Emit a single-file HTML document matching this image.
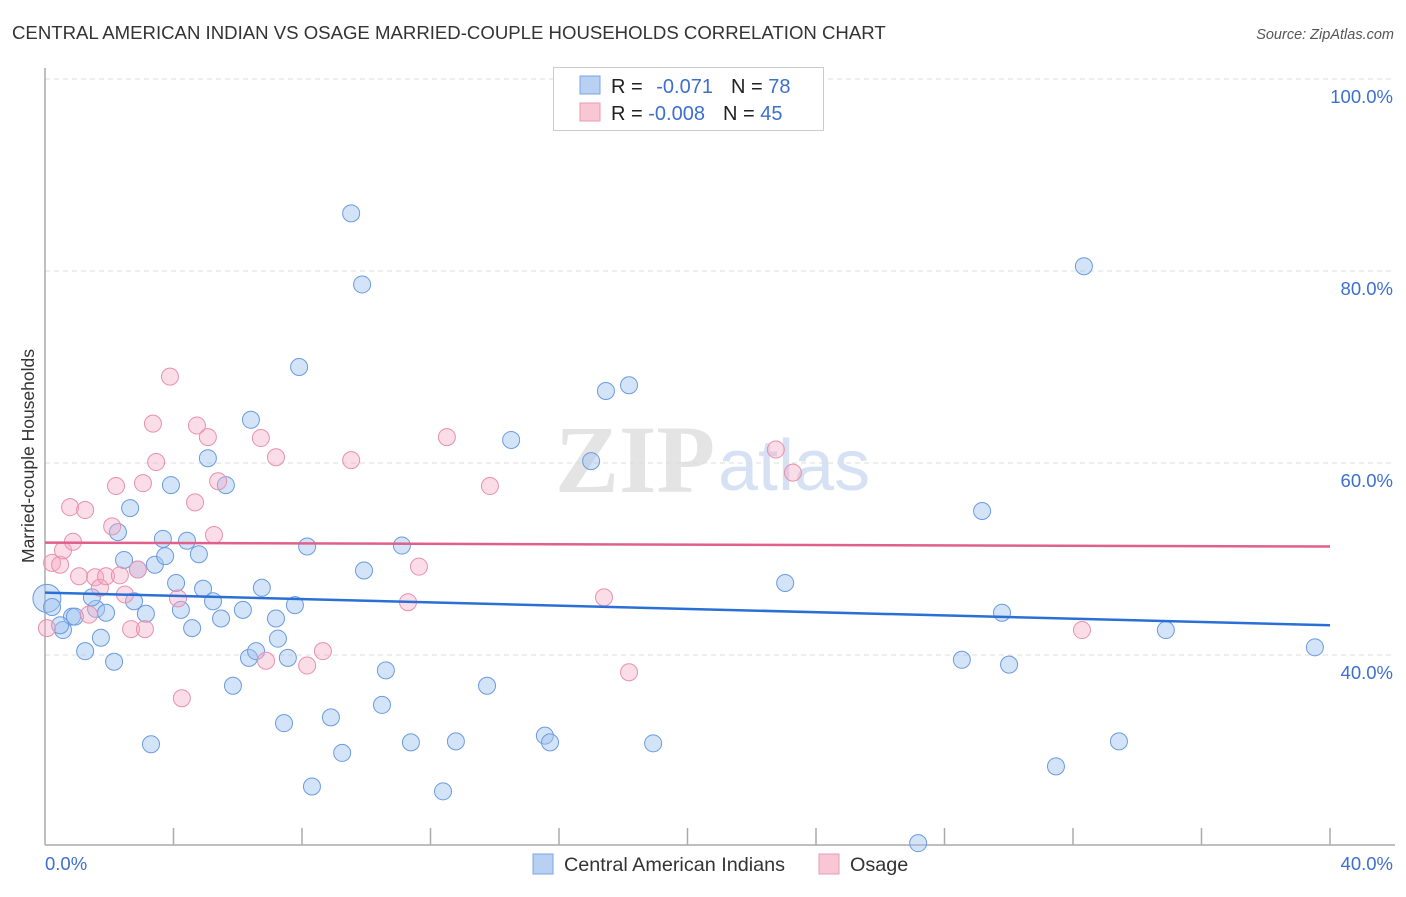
<!DOCTYPE html>
<html><head><meta charset="utf-8"><style>
body{margin:0;background:#fff;font-family:"Liberation Sans",sans-serif}
</style></head><body>
<svg id="c" width="1406" height="892" xmlns="http://www.w3.org/2000/svg">
<text x="12" y="39" font-size="18.6" fill="#333">CENTRAL AMERICAN INDIAN VS OSAGE MARRIED-COUPLE HOUSEHOLDS CORRELATION CHART</text>
<text x="1394" y="39" font-size="14.5" fill="#555" text-anchor="end" font-style="italic">Source: ZipAtlas.com</text>
<text x="555" y="492" font-size="96" fill="#e4e4e4" font-family="Liberation Serif" font-weight="bold">ZIP</text>
<text x="718" y="490" font-size="72" fill="#d6e2f4">atlas</text>
<g id="grid"></g><g id="pts"></g><g id="lines"></g>
<text transform="translate(34,456) rotate(-90)" font-size="17.5" fill="#333" text-anchor="middle">Married-couple Households</text>
<g>
<rect x="553.5" y="67.5" width="270" height="63" fill="#fff" stroke="#ccc"/>
<rect x="580" y="76" width="20" height="18" fill="#b8d1f3" stroke="#7aa5e3"/>
<rect x="580" y="103" width="20" height="18" fill="#f9c6d5" stroke="#ec9ab5"/>
<text x="611" y="93" font-size="20" fill="#222">R = <tspan fill="#3d6fd0" dx="8">-0.071</tspan><tspan dx="18" fill="#222">N = </tspan><tspan fill="#3d6fd0">78</tspan></text>
<text x="611" y="120" font-size="20" fill="#222">R = <tspan fill="#3d6fd0">-0.008</tspan><tspan dx="18" fill="#222">N = </tspan><tspan fill="#3d6fd0">45</tspan></text>
</g>
<g>
<rect x="533" y="854" width="20" height="20" fill="#b8d1f3" stroke="#7aa5e3"/>
<text x="564" y="871" font-size="19.8" fill="#333">Central American Indians</text>
<rect x="819" y="854" width="20" height="20" fill="#f9c6d5" stroke="#ec9ab5"/>
<text x="850" y="871" font-size="19.8" fill="#333">Osage</text>
</g>
</svg>
<script>
const blueX=[0.06,0.22,0.56,0.84,1.25,1.74,2.15,1.59,1.90,1.46,2.46,2.65,2.27,2.89,2.77,3.14,3.30,3.42,3.67,3.74,3.92,4.08,4.23,4.42,4.58,4.79,4.92,5.07,5.23,5.48,5.63,5.85,6.16,6.41,6.35,6.57,6.75,7.19,7.25,7.44,7.56,7.78,7.91,8.16,8.31,8.90,9.25,9.53,9.87,9.93,10.49,10.61,11.11,11.39,12.39,12.79,13.76,14.51,15.56,15.72,17.00,17.46,18.18,18.93,23.04,27.18,28.54,29.17,29.79,30.01,31.47,32.34,33.43,34.89,39.53,0.93,0.47];
const blueY=[45.9,45.0,42.6,44.0,40.4,41.8,39.3,44.8,44.4,46.0,49.9,55.3,52.8,48.9,45.6,44.3,30.7,49.4,52.1,50.3,57.7,47.5,44.7,51.9,42.8,50.5,46.9,60.5,45.6,43.8,57.7,36.8,44.7,64.5,39.7,40.4,47.0,43.8,41.7,32.9,39.7,45.2,70.0,51.3,26.3,33.5,29.8,86.0,78.6,48.8,34.8,38.4,51.4,30.9,25.8,31.0,36.8,62.4,31.6,30.9,60.2,67.5,68.1,30.8,47.5,20.4,39.5,55.0,44.4,39.0,28.4,80.5,31.0,42.6,40.8,44.0,43.1];
const pinkX=[0.06,0.22,0.47,0.56,0.78,0.87,1.06,1.25,1.37,1.56,1.71,1.90,2.09,2.21,2.33,2.49,2.68,2.89,3.05,3.11,3.36,3.46,3.89,4.14,4.26,4.67,4.73,5.07,5.26,5.39,6.72,6.88,7.19,8.16,8.65,9.53,11.30,11.64,12.51,13.85,17.40,18.18,22.75,23.28,32.28];
const pinkY=[42.8,49.6,49.4,50.9,55.4,51.8,48.2,55.1,44.2,48.1,47.0,48.2,53.4,57.6,48.3,46.3,42.7,48.9,57.9,42.7,64.1,60.1,69.0,45.9,35.5,55.9,63.9,62.7,52.5,58.1,62.6,39.4,60.6,38.9,40.4,60.3,45.5,49.2,62.7,57.6,46.0,38.2,61.4,59.0,42.6];
const blueTrend=[46.5,43.1];
const pinkTrend=[51.7,51.3];
const yTicks=[40,60,80,100];
const xTickCount=10;
const NS="http://www.w3.org/2000/svg";
const X=v=>45+v*32.125, Y=v=>79+(100-v)*9.6;
function mk(tag,at,parent){const e=document.createElementNS(NS,tag);for(const k in at)e.setAttribute(k,at[k]);parent.appendChild(e);return e;}
const g=document.getElementById('grid');
yTicks.forEach(t=>{
 const l=mk('line',{x1:45,x2:1395,y1:Y(t),y2:Y(t),stroke:'#ddd','stroke-dasharray':'5,4'},g);
 
 
 const tx=mk('text',{x:1393,y:Y(t)+24,'font-size':18.5,fill:'#3d6fd0','text-anchor':'end'},g);
 tx.textContent=t.toFixed(1)+'%';
 
 
});
mk('line',{x1:45,x2:45,y1:68,y2:845,stroke:'#aaa','stroke-width':1.5},g);
mk('line',{x1:45,x2:1395,y1:845,y2:845,stroke:'#aaa','stroke-width':1.5},g);
for(let i=1;i<=xTickCount;i++){const x=X(i*4);mk('line',{x1:x,x2:x,y1:828,y2:845,stroke:'#aaa','stroke-width':1.5},g);}
const xl0=mk('text',{x:45,y:870,'font-size':18.5,fill:'#3d6fd0'},g);xl0.textContent='0.0%';


const xl1=mk('text',{x:1393,y:870,'font-size':18.5,fill:'#3d6fd0','text-anchor':'end'},g);xl1.textContent='40.0%';


const p=document.getElementById('pts');
blueX.forEach((x,i)=>{
 const c=mk('circle',{cx:X(x),cy:Y(blueY[i]),r:i==0?14:8.5,fill:'rgba(160,195,240,0.45)',stroke:'#6a9be0','stroke-width':1},p);
 
 
});
pinkX.forEach((x,i)=>{
 const c=mk('circle',{cx:X(x),cy:Y(pinkY[i]),r:8.5,fill:'rgba(245,170,195,0.4)',stroke:'#e890ae','stroke-width':1},p);
 
 
});
const L=document.getElementById('lines');
const bl=mk('line',{x1:X(0),x2:X(40),y1:Y(blueTrend[0]),y2:Y(blueTrend[1]),stroke:'#2a6fd6','stroke-width':2.5},L);


const pl=mk('line',{x1:X(0),x2:X(40),y1:Y(pinkTrend[0]),y2:Y(pinkTrend[1]),stroke:'#e0608a','stroke-width':2.5},L);


</script>
</body></html>
